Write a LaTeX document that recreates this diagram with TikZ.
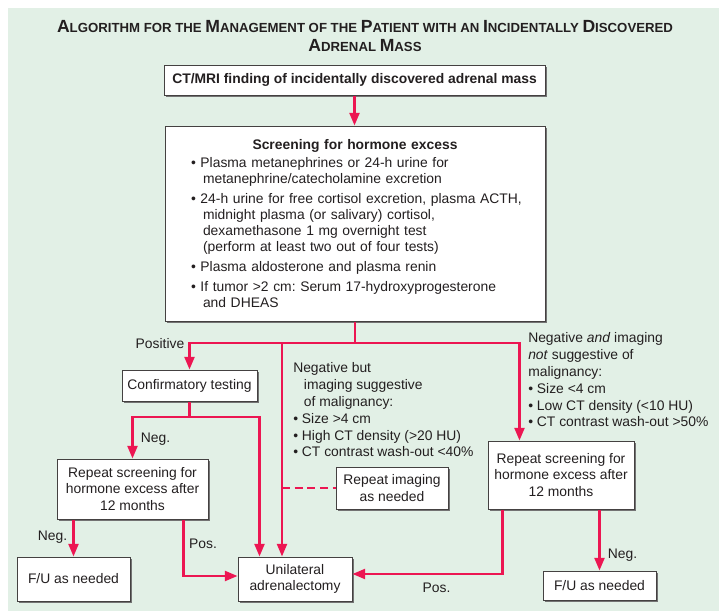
\documentclass[tikz,border=0pt]{standalone}
\usepackage{fontspec}
\setmainfont{Liberation Sans}
\setsansfont{Liberation Sans}
\usepackage{tikz}
\usetikzlibrary{positioning, calc, arrows.meta, shadows}

\definecolor{bgmint}{RGB}{226,240,230}
\definecolor{flowred}{RGB}{236,22,82}
\definecolor{inkgray}{RGB}{35,31,32}

% large initial for the small-caps title
\newcommand{\tcap}[1]{{\fontsize{13.2}{14}\selectfont #1}}

\begin{document}
\begin{tikzpicture}[
    x=0.75pt, y=-0.75pt,
    box/.style={draw=inkgray!85, fill=white, line width=0.75pt, align=center,
                inner sep=2pt, font=\fontsize{10.4}{12.4}\selectfont\frenchspacing,
                text=inkgray,
                drop shadow={shadow xshift=1.5pt, shadow yshift=-1.5pt,
                             fill=black!55, opacity=1}},
    arw/.style={-{Triangle[length=9.5pt, width=7.5pt]}, line width=1.7pt, flowred},
    lnk/.style={line width=1.7pt, flowred},
    lbl/.style={font=\fontsize{10.4}{12.4}\selectfont, text=inkgray,
                inner sep=0pt, anchor=base},
    note/.style={text=inkgray, inner sep=0pt, align=left, anchor=north west,
                 font=\fontsize{10.4}{12.6}\selectfont\frenchspacing},
]
\useasboundingbox (0,0) rectangle (719,612);
\fill[bgmint] (8,8) rectangle (719,611);

% --- Title ---
\node[font=\fontsize{9.9}{14.25}\selectfont\bfseries, text=inkgray,
      align=center, anchor=north, inner sep=0pt] (title) at (365,20.5)
    {\tcap{A}LGORITHM FOR THE \tcap{M}ANAGEMENT OF THE \tcap{P}ATIENT WITH AN
     \tcap{I}NCIDENTALLY \tcap{D}ISCOVERED\\
     \tcap{A}DRENAL \tcap{M}ASS};

% --- Nodes ---
\node[box, minimum width=285.75pt, minimum height=22.5pt] (ct) at (354.5,80)
    {\bfseries CT/MRI finding of incidentally discovered adrenal mass};
\node[box, minimum width=285pt, minimum height=146.25pt, text width=246pt,
      inner xsep=19.5pt, align=left,
      font=\fontsize{10.4}{12}\selectfont\frenchspacing]
    (screen) at (355,223.5)
    {\makebox[\linewidth]{\bfseries Screening for hormone excess}\\[1.5pt]
     \textbullet\ Plasma metanephrines or 24-h urine for\\
     \hspace*{9pt}metanephrine/catecholamine excretion\\[3pt]
     \mbox{\textbullet\ 24-h urine for free cortisol excretion, plasma ACTH,}\\
     \hspace*{9pt}midnight plasma (or salivary) cortisol,\\
     \hspace*{9pt}dexamethasone 1 mg overnight test\\
     \hspace*{9pt}(perform at least two out of four tests)\\[3pt]
     \textbullet\ Plasma aldosterone and plasma renin\\[3pt]
     \textbullet\ If tumor >2 cm: Serum 17-hydroxyprogesterone\\
     \hspace*{9pt}and DHEAS};
\node[box, minimum width=101.25pt, minimum height=23.25pt] (confirm)
    at (189.5,385.5) {Confirmatory testing};
\node[box, minimum width=113.25pt, minimum height=45pt] (rep1) at (132.5,489)
    {Repeat screening for\\hormone excess after\\12 months};
\node[box, minimum width=84.75pt, minimum height=33pt] (fu1) at (73.5,579)
    {F/U as needed};
\node[box, minimum width=85.5pt, minimum height=33pt] (adr) at (295,579)
    {Unilateral\\adrenalectomy};
\node[box, minimum width=84pt, minimum height=31.5pt] (img) at (392,488)
    {Repeat imaging\\as needed};
\node[box, minimum width=109.5pt, minimum height=51pt] (rep2) at (561,475)
    {Repeat screening for\\hormone excess after\\12 months};
\node[box, minimum width=84.75pt, minimum height=21.75pt] (fu2) at (599.5,585.5)
    {F/U as needed};

% --- Criteria texts ---
\node[note] (malig) at (293,362.5)
    {Negative but\\
     \hspace*{8pt}imaging suggestive\\
     \hspace*{8pt}of malignancy:\\
     \textbullet\ Size >4 cm\\
     \textbullet\ High CT density (>20 HU)\\
     \textbullet\ CT contrast wash-out <40\%};
\node[note] (benign) at (528,332.5)
    {Negative \textit{and} imaging\\
     \textit{not} suggestive of\\
     malignancy:\\
     \textbullet\ Size <4 cm\\
     \textbullet\ Low CT density (<10 HU)\\
     \textbullet\ CT contrast wash-out >50\%};

% --- Branch points ---
\coordinate (split) at (355,343);
\coordinate (midtap) at (282,343);
\coordinate (csplit) at (189.5,417);

% --- Arrows ---
\draw[arw] (ct.south) -- (ct.south |- screen.north);
\draw[lnk] (screen.south) -- (split);
\draw[arw] (split) -| (confirm.north);
\draw[arw] (split) -| ($(rep2.north west)+(32,0)$);
\draw[arw] (midtap) -- (midtap |- adr.north);
\draw[lnk, dash pattern=on 6pt off 3.5pt] (midtap |- img.west) -- (img.west);
\draw[lnk] (confirm.south) -- (csplit);
\draw[arw] (csplit) -| (rep1.north);
\draw[arw] (csplit) -| ($(adr.north west)+(22,0)$);
\draw[arw] (fu1.north |- rep1.south) -- (fu1.north);
\draw[arw] ($(rep1.south west)+(127,0)$) |- ($(adr.west)+(0,-3)$);
\draw[arw] ($(rep2.south west)+(15,0)$) |- ($(adr.east)+(0,-5)$);
\draw[arw] (fu2.north |- rep2.south) -- (fu2.north);

% --- Branch labels ---
\node[lbl] (lpos) at (160,348) {Positive};
\node[lbl] (lneg) at (155.5,442) {Neg.};
\node[lbl] (lnegfu) at (52.5,540) {Neg.};
\node[lbl] (lposl) at (203,548) {Pos.};
\node[lbl] (lposr) at (436.5,592) {Pos.};
\node[lbl] (lnegr) at (622.5,558) {Neg.};
\end{tikzpicture}
\end{document}
